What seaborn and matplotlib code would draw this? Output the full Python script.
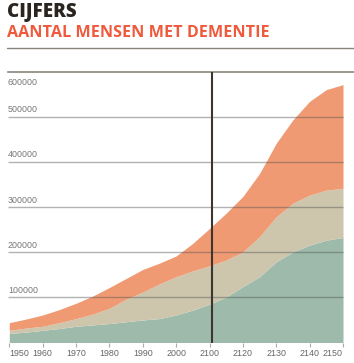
import numpy as np
import matplotlib
matplotlib.use("Agg")
import matplotlib.pyplot as plt
import seaborn as sns

sns.set_theme(style="white")
plt.rcParams['font.family'] = ['Open Sans', 'DejaVu Sans']
klein = ['Liberation Sans', 'DejaVu Sans']

# data, values per 5 years
jaren = [1950, 1955, 1960, 1965, 1970, 1975, 1980, 1985, 1990, 1995, 2000,
         2005, 2010, 2015, 2020, 2025, 2030, 2035, 2040, 2045, 2050]
groen = [20, 23, 27, 31, 36, 39, 42, 46, 50, 53, 61,
         72, 85, 101, 124, 146, 179, 201, 216, 227, 233]
beige_top = [27, 32, 36, 44, 53, 63, 76, 96, 112, 130, 146,
             159, 170, 183, 201, 235, 279, 309, 327, 338, 342]
oranje_top = [44, 52, 61, 73, 87, 103, 122, 142, 162, 176, 192,
              220, 253, 287, 324, 375, 442, 494, 535, 561, 572]

tick_jaren = [1950, 1960, 1970, 1980, 1990, 2000, 2010, 2020, 2030, 2040, 2050]
tick_labels = ["1950", "1960", "1970", "1980", "1990", "2000",
               "2100", "2120", "2130", "2140", "2150"]
y_ticks = [100000, 200000, 300000, 400000, 500000, 600000]

groen = np.array(groen) * 1000
beige = np.array(beige_top) * 1000 - groen
oranje = np.array(oranje_top) * 1000 - np.array(beige_top) * 1000

kleuren = ["#9dbaaa", "#cdc6ad", "#f09a73"]

fig = plt.figure(figsize=(3.54, 3.63), dpi=100)
ax = fig.add_axes([8/354, (363-342.5)/363, 346/354, (342.5-72)/363])

ax.stackplot(jaren, groen, beige, oranje, colors=kleuren, linewidth=0)

x0 = 1950 - 1.3/3.34
ax.set_xlim(x0, 2050 + 11/3.34)
ax.set_ylim(0, 600000)

# gridlines over the areas
for y in y_ticks[:-1]:
    ax.hlines(y, x0, 2050, color="#555555", alpha=0.45, lw=1, zorder=3)
    ax.text(x0, y + 6000, f"{y}", fontsize=6.4, color="#777777",
            ha="left", va="bottom", family=klein)
ax.text(x0, 600000 - 14000, "600000", fontsize=6.4, color="#777777",
        ha="left", va="top", family=klein)

# vertical line (nu)
ax.axvline(2010.6, color="#3d362e", lw=1.5, zorder=4)

for s in ["left", "right", "bottom"]:
    ax.spines[s].set_visible(False)
ax.spines["top"].set_color("#8a857c")
ax.spines["top"].set_linewidth(1.2)

ax.set_yticks([])
ax.set_xticks(tick_jaren)
ax.set_xticklabels(tick_labels, fontsize=6.4, color="#666666", family=klein)
ax.get_xticklabels()[0].set_ha("left")
ax.get_xticklabels()[-1].set_ha("right")
ax.tick_params(axis="x", length=3, width=0.8, color="#aaaaaa", pad=2, bottom=True)

# header
fig.add_artist(plt.Line2D([7/354, 1], [1 - 47.5/363, 1 - 47.5/363],
                          color="#8a857c", lw=1))
fig.text(7/354, 1 - 17.5/363, "CIJFERS", fontsize=13.5, fontweight="heavy",
         color="#2a2520", ha="left", va="baseline")
fig.text(7/354, 1 - 36.8/363, "AANTAL MENSEN MET DEMENTIE", fontsize=11.6,
         fontweight="bold", color="#f05a3c", ha="left", va="baseline")

fig.savefig("out.png", dpi=100)
